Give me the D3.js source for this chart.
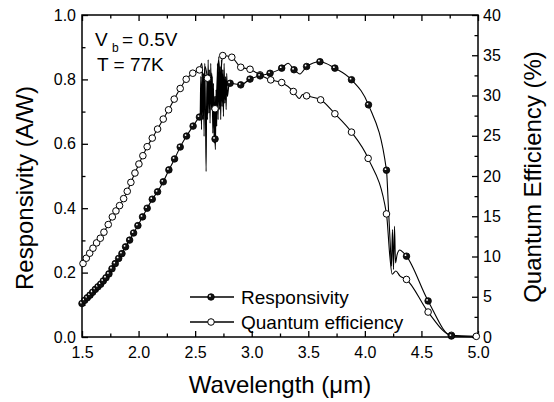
<!DOCTYPE html>
<html>
<head>
<meta charset="utf-8">
<script src="https://cdn.jsdelivr.net/npm/d3@7"></script>
<style>
  body { margin: 0; background: #fff; }
  text { font-family: "Liberation Sans", Arial, sans-serif; fill: #000; }
</style>
</head>
<body>
<svg id="chart" width="554" height="402"></svg>
<script>
// responsivity (A/W), marked points  [wavelength um, value]
const respPoints = [
  [1.500,0.104],[1.524,0.114],[1.547,0.122],[1.571,0.130],[1.594,0.139],[1.618,0.148],
  [1.641,0.156],[1.665,0.164],[1.688,0.174],[1.712,0.184],[1.738,0.196],[1.765,0.212],
  [1.794,0.228],[1.824,0.244],[1.853,0.259],[1.885,0.280],[1.921,0.301],[1.956,0.323],
  [1.994,0.346],[2.035,0.373],[2.076,0.400],[2.121,0.428],[2.168,0.451],[2.218,0.482],
  [2.268,0.519],[2.318,0.553],[2.368,0.590],[2.424,0.624],[2.482,0.655],[2.538,0.683],
  [2.676,0.615],[2.809,0.788],[2.903,0.783],[2.985,0.801],[3.074,0.811],[3.162,0.819],
  [3.265,0.835],[3.374,0.830],[3.485,0.840],[3.603,0.855],[3.735,0.835],[3.882,0.799],
  [4.032,0.721],[4.191,0.518],[4.368,0.251],[4.559,0.112],[4.765,0.003]
];
// responsivity, line only (noisy parts, wiggles, tail)
const respExtra = [
  [2.544,0.685],[2.550,0.809],[2.556,0.644],[2.562,0.840],[2.568,0.675],[2.574,0.819],
  [2.579,0.623],[2.585,0.850],[2.591,0.706],[2.597,0.514],[2.603,0.799],[2.609,0.675],
  [2.615,0.861],[2.621,0.695],[2.626,0.830],[2.632,0.664],[2.638,0.850],[2.644,0.706],
  [2.650,0.809],[2.656,0.633],[2.662,0.788],[2.668,0.602],[2.674,0.747],[2.679,0.582],
  [2.685,0.768],[2.691,0.654],[2.697,0.850],[2.703,0.675],[2.709,0.871],[2.715,0.706],
  [2.721,0.840],[2.726,0.675],[2.732,0.861],[2.738,0.716],[2.744,0.830],[2.750,0.685],
  [2.756,0.850],[2.762,0.726],[2.768,0.809],[2.774,0.706],[2.779,0.819],[2.785,0.747],
  [2.797,0.778],
  [3.321,0.850],[3.426,0.817],
  [4.209,0.396],[4.224,0.292],[4.235,0.220],[4.244,0.334],[4.253,0.210],[4.262,0.344],
  [4.271,0.230],[4.285,0.256],[4.309,0.270],[4.338,0.263],
  [4.985,0.000]
];
// quantum efficiency (%), marked points
const qePoints = [
  [1.509,9.13],[1.538,9.79],[1.568,10.41],[1.597,11.03],[1.629,11.69],[1.662,12.27],
  [1.694,13.02],[1.732,13.97],[1.768,14.92],[1.800,15.66],[1.832,16.32],[1.868,17.19],
  [1.900,18.10],[1.932,19.21],[1.968,20.37],[2.003,21.49],[2.038,22.52],[2.076,23.64],
  [2.121,24.71],[2.168,25.83],[2.218,27.07],[2.265,28.22],[2.315,29.55],[2.368,30.87],
  [2.421,32.02],[2.479,32.77],[2.538,33.18],[2.609,32.15],[2.676,28.35],[2.744,34.96],
  [2.824,34.75],[2.903,33.51],[2.985,33.26],[3.074,32.56],[3.168,31.94],[3.265,31.61],
  [3.368,30.50],[3.485,29.96],[3.609,29.46],[3.735,27.73],[3.882,25.45],[4.029,22.19],
  [4.191,15.29],[4.368,7.15],[4.559,3.10],[4.765,0.21],[4.985,0.08]
];
// quantum efficiency, line only
const qeExtra = [
  [2.559,34.0],[2.574,31.1],[2.588,33.6],[2.632,29.9],[2.647,32.8],[2.662,27.4],
  [2.691,30.3],[2.706,34.4],[2.721,32.4],
  [3.421,29.63],[3.450,30.12],
  [4.221,10.0],[4.241,7.8],[4.274,8.2],[4.309,7.6]
];

const xTicks = [1.5, 2.0, 2.5, 3.0, 3.5, 4.0, 4.5, 5.0];
const xMinor = [1.75, 2.25, 2.75, 3.25, 3.75, 4.25, 4.75];
const yTicks = [0, 0.2, 0.4, 0.6, 0.8, 1.0];
const yMinor = [0.1, 0.3, 0.5, 0.7, 0.9];
const qeTicks = [0, 5, 10, 15, 20, 25, 30, 35, 40];
const qeMinor = [2.5, 7.5, 12.5, 17.5, 22.5, 27.5, 32.5, 37.5];
const legendNames = ["Responsivity", "Quantum efficiency"];

const svg = d3.select("#chart");
const pLeft = 82, pRight = 478, pTop = 15, pBottom = 337;

const x = d3.scaleLinear().domain([1.5, 5.0]).range([pLeft, pRight]);
const y = d3.scaleLinear().domain([0, 1.0]).range([pBottom, pTop]);
const yq = d3.scaleLinear().domain([0, 40]).range([pBottom, pTop]);

// axes, all ticks pointing into the box
function addAxis(axis, tx, ty, fmt, vals, size, pad) {
  const g = svg.append("g")
    .attr("transform", "translate(" + tx + "," + ty + ")")
    .call(axis.tickValues(vals).tickSize(-size).tickSizeOuter(0)
      .tickPadding(pad).tickFormat(fmt));
  g.select(".domain").remove();
  g.selectAll("line").attr("stroke", "#000").attr("stroke-width", 1.3);
  g.selectAll("text").style("font-size", "16px").attr("fill", "#000");
  return g;
}
const f1 = d3.format(".1f");
addAxis(d3.axisBottom(x), 0, pBottom, f1, xTicks, 6, 9.6);
addAxis(d3.axisBottom(x), 0, pBottom, "", xMinor, 3.5, 0);
addAxis(d3.axisTop(x), 0, pTop, "", xTicks, 6, 0);
addAxis(d3.axisTop(x), 0, pTop, "", xMinor, 3.5, 0);
addAxis(d3.axisLeft(y), pLeft, 0, f1, yTicks, 6, 6);
addAxis(d3.axisLeft(y), pLeft, 0, "", yMinor, 3.5, 0);
addAxis(d3.axisRight(yq), pRight, 0, d3.format("d"), qeTicks, 6, 5);
addAxis(d3.axisRight(yq), pRight, 0, "", qeMinor, 3.5, 0);

svg.append("rect")
  .attr("x", pLeft).attr("y", pTop)
  .attr("width", pRight - pLeft).attr("height", pBottom - pTop)
  .attr("fill", "none").attr("stroke", "#000").attr("stroke-width", 1.5);

// curves: marked points and extra points merged by wavelength
const respLine = respPoints.concat(respExtra).sort((a, b) => a[0] - b[0]);
const qeLine = qePoints.concat(qeExtra).sort((a, b) => a[0] - b[0]);

const lineR = d3.line().x(d => x(d[0])).y(d => y(d[1])).curve(d3.curveMonotoneX);
const lineQ = d3.line().x(d => x(d[0])).y(d => yq(d[1])).curve(d3.curveMonotoneX);

svg.append("path").attr("d", lineQ(qeLine))
  .attr("fill", "none").attr("stroke", "#000").attr("stroke-width", 1.1);
svg.append("path").attr("d", lineR(respLine))
  .attr("fill", "none").attr("stroke", "#000").attr("stroke-width", 1.1);

// markers
function filledDot(g, cx, cy) {
  g.append("circle").attr("cx", cx).attr("cy", cy).attr("r", 3.3)
    .attr("fill", "#111").attr("stroke", "#000").attr("stroke-width", 0.8);
  g.append("circle").attr("cx", cx - 1).attr("cy", cy - 1).attr("r", 0.9)
    .attr("fill", "#fff");
}
function openDot(g, cx, cy) {
  g.append("circle").attr("cx", cx).attr("cy", cy).attr("r", 3.3)
    .attr("fill", "#fff").attr("stroke", "#000").attr("stroke-width", 1);
}
const marks = svg.append("g");
qePoints.forEach(d => openDot(marks, x(d[0]), yq(d[1])));
respPoints.forEach(d => filledDot(marks, x(d[0]), y(d[1])));

// legend
const leg = svg.append("g");
[0, 1].forEach(i => {
  const ly = 297 + i * 25;
  leg.append("line").attr("x1", 190).attr("x2", 234).attr("y1", ly).attr("y2", ly)
    .attr("stroke", "#000").attr("stroke-width", 1.3);
  if (i === 0) filledDot(leg, 211, ly); else openDot(leg, 211, ly);
  leg.append("text").attr("x", 241).attr("y", ly + 6.5)
    .style("font-size", "19px").text(legendNames[i]);
});

// conditions
const note = svg.append("text").attr("y", 46).style("font-size", "19px");
note.append("tspan").attr("x", 95).text("V");
note.append("tspan").attr("x", 112).attr("dy", 6).style("font-size", "12px").text("b");
note.append("tspan").attr("x", 122).attr("dy", -6).text("= 0.5V");
svg.append("text").attr("x", 97).attr("y", 71).style("font-size", "19px").text("T = 77K");

// axis titles
svg.append("text").attr("x", 280).attr("y", 393).attr("text-anchor", "middle")
  .style("font-size", "24px").text("Wavelength (\u03bcm)");
svg.append("text").attr("transform", "translate(33,188) rotate(-90)")
  .attr("text-anchor", "middle").style("font-size", "24px").text("Responsivity (A/W)");
svg.append("text").attr("transform", "translate(541,177) rotate(-90)")
  .attr("text-anchor", "middle").style("font-size", "24px").text("Quantum Efficiency (%)");
</script>
</body>
</html>
